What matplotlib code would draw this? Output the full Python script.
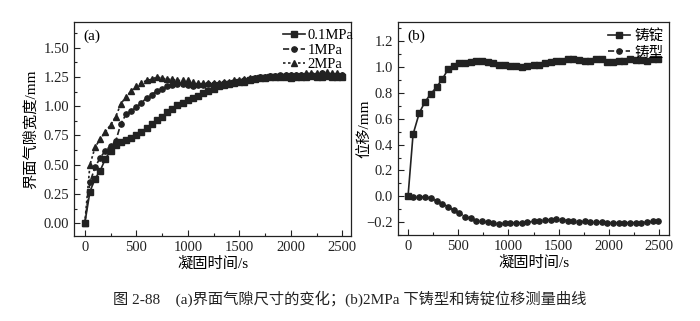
import matplotlib
matplotlib.use("Agg")
import matplotlib.pyplot as plt
from matplotlib.ticker import MultipleLocator
import numpy as np

plt.rcParams['font.family'] = ['Liberation Serif', 'Noto Sans CJK SC']
plt.rcParams['axes.unicode_minus'] = True

# ---- panel (a) data ----
t_a = [0, 50, 100, 150, 200, 250, 300, 350, 400, 450, 500, 550, 600, 650, 700, 750,
       800, 850, 900, 950, 1000, 1050, 1100, 1150, 1200, 1250, 1300, 1350, 1400, 1450,
       1500, 1550, 1600, 1650, 1700, 1750, 1800, 1850, 1900, 1950, 2000, 2050, 2100,
       2150, 2200, 2250, 2300, 2350, 2400, 2450, 2500]
gap_01 = [0.00, 0.27, 0.38, 0.45, 0.55, 0.62, 0.67, 0.69, 0.71, 0.73, 0.75, 0.78, 0.81,
          0.85, 0.88, 0.91, 0.95, 0.98, 1.01, 1.03, 1.05, 1.07, 1.09, 1.11, 1.13, 1.15,
          1.17, 1.18, 1.19, 1.20, 1.21, 1.21, 1.22, 1.23, 1.24, 1.24, 1.25, 1.25, 1.25,
          1.25, 1.24, 1.25, 1.25, 1.25, 1.26, 1.25, 1.25, 1.26, 1.25, 1.25, 1.25]
gap_1 = [0.00, 0.35, 0.48, 0.56, 0.62, 0.66, 0.70, 0.85, 0.93, 0.96, 0.99, 1.03, 1.07,
         1.10, 1.13, 1.15, 1.17, 1.18, 1.19, 1.19, 1.18, 1.17, 1.18, 1.18, 1.19, 1.19,
         1.19, 1.20, 1.20, 1.21, 1.21, 1.22, 1.23, 1.24, 1.25, 1.25, 1.26, 1.26, 1.27,
         1.27, 1.27, 1.27, 1.27, 1.27, 1.27, 1.27, 1.28, 1.27, 1.27, 1.27, 1.27]
gap_2 = [0.00, 0.50, 0.65, 0.72, 0.78, 0.84, 0.91, 1.02, 1.08, 1.13, 1.17, 1.20, 1.22,
         1.23, 1.25, 1.24, 1.23, 1.23, 1.22, 1.22, 1.22, 1.21, 1.20, 1.20, 1.20, 1.20,
         1.20, 1.21, 1.21, 1.22, 1.22, 1.23, 1.24, 1.24, 1.25, 1.25, 1.26, 1.26, 1.26,
         1.27, 1.27, 1.27, 1.27, 1.28, 1.28, 1.28, 1.28, 1.29, 1.28, 1.28, 1.27]
labels_a = ['0.1MPa', '1MPa', '2MPa']

# ---- panel (b) data ----
t_b = [0, 50, 112, 168, 228, 284, 343, 400, 456, 512, 568, 625, 680, 740, 795, 850,
       910, 965, 1020, 1080, 1135, 1190, 1250, 1300, 1360, 1420, 1475, 1530, 1590,
       1645, 1700, 1760, 1815, 1870, 1930, 1985, 2040, 2100, 2155, 2210, 2270, 2325,
       2380, 2440, 2495]
ingot = [0.00, 0.48, 0.645, 0.73, 0.795, 0.845, 0.91, 0.985, 1.01, 1.03, 1.035, 1.04,
         1.05, 1.05, 1.04, 1.03, 1.02, 1.02, 1.01, 1.01, 1.00, 1.01, 1.015, 1.02, 1.03,
         1.04, 1.045, 1.05, 1.06, 1.06, 1.055, 1.05, 1.05, 1.06, 1.06, 1.04, 1.04,
         1.05, 1.05, 1.06, 1.055, 1.055, 1.05, 1.06, 1.06]
mould = [0.00, -0.005, -0.005, -0.005, -0.015, -0.035, -0.06, -0.08, -0.11, -0.13,
         -0.16, -0.17, -0.19, -0.195, -0.20, -0.21, -0.215, -0.21, -0.21, -0.205,
         -0.205, -0.20, -0.195, -0.195, -0.185, -0.18, -0.175, -0.18, -0.19, -0.195,
         -0.20, -0.195, -0.20, -0.20, -0.20, -0.205, -0.205, -0.205, -0.205, -0.205,
         -0.205, -0.205, -0.20, -0.195, -0.195]
labels_b = ['铸锭', '铸型']

c = '#222222'
fig = plt.figure(figsize=(7.0, 3.21), dpi=100)
W, H = 700, 321
ax1 = fig.add_axes([74 / W, 1 - 236 / H, (351 - 74) / W, (236 - 22) / H])
ax2 = fig.add_axes([398 / W, 1 - 235 / H, (669 - 398) / W, (235 - 22) / H])

ms = 3.8
lw = 1.2
ax1.plot(t_a, gap_01, '-', marker='s', color=c, ms=ms, lw=lw, label=labels_a[0])
ax1.plot(t_a, gap_1, '--', marker='o', color=c, ms=ms, lw=lw, label=labels_a[1])
ax1.plot(t_a, gap_2, linestyle=(0, (1.5, 1.5)), marker='^', color=c, ms=ms, lw=lw, label=labels_a[2])
ax1.set_xlim(-105, 2585)
ax1.set_ylim(-0.11, 1.72)
ax1.xaxis.set_major_locator(MultipleLocator(500))
ax1.xaxis.set_minor_locator(MultipleLocator(250))
ax1.yaxis.set_minor_locator(MultipleLocator(0.125))
ax1.set_yticks([0, 0.25, 0.5, 0.75, 1.0, 1.25, 1.5])
ax1.set_yticklabels(['0.00', '0.25', '0.50', '0.75', '1.00', '1.25', '1.50'])
ax1.set_xlabel('凝固时间/s', fontsize=11, labelpad=2)
ax1.set_ylabel('界面气隙宽度/mm', fontsize=11)
ax1.yaxis.set_label_coords(-0.13, 0.5)
ax1.text(0.035, 0.965, '(a)', transform=ax1.transAxes, fontsize=11, va='top', ha='left')
ax1.legend(loc='upper right', bbox_to_anchor=(1.015, 0.975), frameon=False, fontsize=10.5,
           handlelength=1.5, handletextpad=0.2, labelspacing=0.1, borderaxespad=0.0,
           borderpad=0.1)

ax2.plot(t_b, ingot, '-', marker='s', color=c, ms=ms, lw=lw, label=labels_b[0])
ax2.plot(t_b, mould, '--', marker='o', color=c, ms=ms, lw=lw, label=labels_b[1])
ax2.set_xlim(-100, 2600)
ax2.set_ylim(-0.30, 1.35)
ax2.xaxis.set_major_locator(MultipleLocator(500))
ax2.xaxis.set_minor_locator(MultipleLocator(250))
ax2.yaxis.set_minor_locator(MultipleLocator(0.1))
ax2.set_yticks([-0.2, 0.0, 0.2, 0.4, 0.6, 0.8, 1.0, 1.2])
ax2.set_yticklabels(['\u22120.2', '0.0', '0.2', '0.4', '0.6', '0.8', '1.0', '1.2'])
ax2.set_xlabel('凝固时间/s', fontsize=11, labelpad=2)
ax2.set_ylabel('位移/mm', fontsize=11)
ax2.yaxis.set_label_coords(-0.10, 0.5)
ax2.text(0.035, 0.965, '(b)', transform=ax2.transAxes, fontsize=11, va='top', ha='left')
ax2.legend(loc='upper right', bbox_to_anchor=(0.985, 0.975), frameon=False, fontsize=10.5,
           handlelength=1.5, handletextpad=0.3, labelspacing=0.25, borderaxespad=0.0,
           borderpad=0.1)

for ax in (ax1, ax2):
    ax.tick_params(which='both', direction='in', top=False, right=False,
                   labelsize=10.5, color=c, labelcolor=c)
    ax.tick_params(which='major', length=4, width=0.8)
    ax.tick_params(which='minor', length=2.5, width=0.8)
    for s in ax.spines.values():
        s.set_color(c)
        s.set_linewidth(0.9)

fig.text(0.5, 1 - 299 / H, '图 2-88    (a)界面气隙尺寸的变化；(b)2MPa 下铸型和铸锭位移测量曲线',
         ha='center', va='center', fontsize=11, color=c)

fig.savefig('out.png', dpi=100)
